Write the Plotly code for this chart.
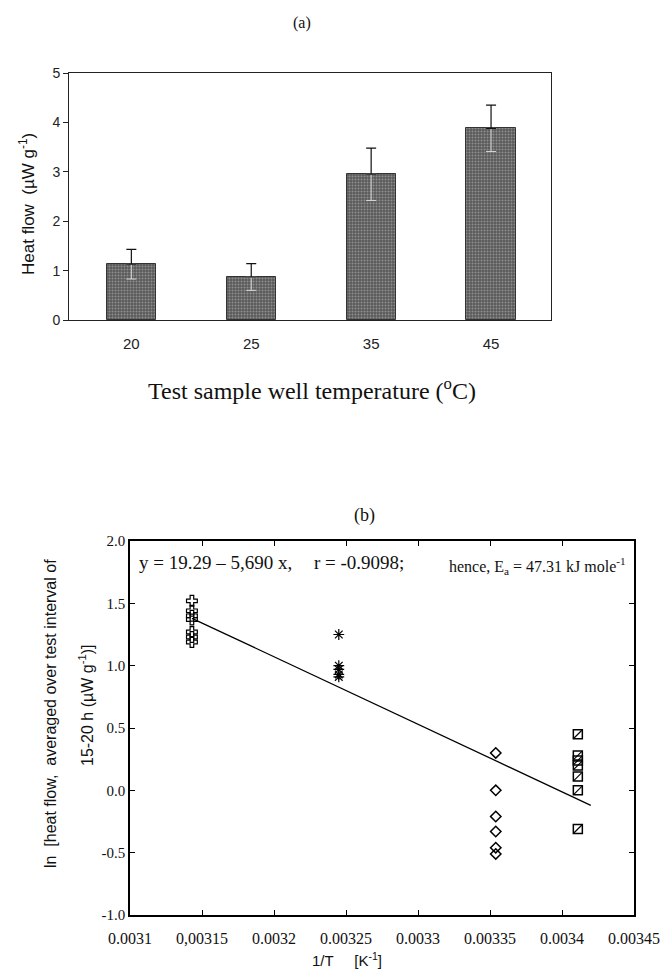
import plotly.graph_objects as go

W, H = 660, 974

# ---------- data: panel (a) ----------
temps = ["20", "25", "35", "45"]
heat_flow = [1.13, 0.87, 2.95, 3.88]
heat_err = [0.30, 0.27, 0.53, 0.47]

# ---------- data: panel (b) ----------
x45 = [0.003143] * 7
y45 = [1.52, 1.44, 1.40, 1.37, 1.27, 1.23, 1.19]
x35 = [0.003245] * 5
y35 = [1.25, 1.00, 0.97, 0.93, 0.91]
x25 = [0.003354] * 6
y25 = [0.30, 0.00, -0.21, -0.33, -0.46, -0.51]
x20 = [0.003411] * 7
y20 = [0.45, 0.28, 0.24, 0.20, 0.11, 0.00, -0.31]
fit_x = [0.003143, 0.003420]
fit_y = [1.38, -0.12]

xticks_b = [0.0031, 0.00315, 0.0032, 0.00325, 0.0033, 0.00335, 0.0034, 0.00345]
xticktext_b = ["0.0031", "0,00315", "0.0032", "0.00325", "0.0033", "0.00335", "0.0034", "0.00345"]
yticks_b = [2.0, 1.5, 1.0, 0.5, 0.0, -0.5, -1.0]
yticktext_b = ["2.0", "1.5", "1.0", "0.5", "0.0", "-0.5", "-1.0"]


def px(x):
    return x / W


def py(y):
    return 1 - y / H


SERIF = "Liberation Serif"
SANS = "Liberation Sans"

fig = go.Figure()

# panel (a) bars
fig.add_trace(go.Bar(
    x=temps, y=heat_flow, width=0.41,
    marker=dict(color="#5a5a5a",
                line=dict(color="#333333", width=1),
                pattern=dict(shape=".", fgcolor="#c4c4c4", bgcolor="#5a5a5a",
                             size=3, solidity=0.35)),
    xaxis="x", yaxis="y", showlegend=False,
))
# lower (faint) half of error bars
fig.add_trace(go.Scatter(
    x=temps, y=heat_flow, mode="markers",
    marker=dict(size=1, color="rgba(0,0,0,0)"),
    error_y=dict(type="data", symmetric=False, array=[0] * 4, arrayminus=heat_err,
                 color="#d8d8d8", thickness=1, width=5),
    xaxis="x", yaxis="y", showlegend=False, hoverinfo="skip",
))
# upper half of error bars
fig.add_trace(go.Scatter(
    x=temps, y=heat_flow, mode="markers",
    marker=dict(size=1, color="rgba(0,0,0,0)"),
    error_y=dict(type="data", symmetric=False, array=heat_err, arrayminus=[0] * 4,
                 color="#111111", thickness=1.2, width=5),
    xaxis="x", yaxis="y", showlegend=False, hoverinfo="skip",
))

# panel (b) fit line
fig.add_trace(go.Scatter(
    x=fit_x, y=fit_y, mode="lines", line=dict(color="black", width=1.3),
    xaxis="x2", yaxis="y2", showlegend=False,
))
# panel (b) points
fig.add_trace(go.Scatter(
    x=x45, y=y45, mode="markers",
    marker=dict(symbol="cross-open", size=9, color="black", line=dict(width=1.2, color="black")),
    xaxis="x2", yaxis="y2", showlegend=False,
))
fig.add_trace(go.Scatter(
    x=x35, y=y35, mode="markers",
    marker=dict(symbol="asterisk-open", size=9, color="black", line=dict(width=1.2, color="black")),
    xaxis="x2", yaxis="y2", showlegend=False,
))
fig.add_trace(go.Scatter(
    x=x25, y=y25, mode="markers",
    marker=dict(symbol="diamond-open", size=8, color="black", line=dict(width=1.5, color="black")),
    xaxis="x2", yaxis="y2", showlegend=False,
))
fig.add_trace(go.Scatter(
    x=x20, y=y20, mode="markers",
    marker=dict(symbol="square-open", size=9, color="black", line=dict(width=1.5, color="black")),
    xaxis="x2", yaxis="y2", showlegend=False,
))
fig.add_trace(go.Scatter(
    x=x20, y=y20, mode="markers",
    marker=dict(symbol="line-ne-open", size=8, color="black", line=dict(width=1.2, color="black")),
    xaxis="x2", yaxis="y2", showlegend=False,
))

fig.update_layout(
    width=W, height=H,
    margin=dict(l=0, r=0, t=0, b=0),
    paper_bgcolor="white", plot_bgcolor="white",
    showlegend=False,
    bargap=0,
    xaxis=dict(
        domain=[px(69), px(551)], anchor="y",
        type="category", range=[-0.52, 3.5],
        showline=True, linecolor="#222", linewidth=1, mirror=True,
        ticks="", showgrid=False, zeroline=False, automargin=False,
        ticklabelstandoff=10,
        tickfont=dict(family=SANS, size=15, color="#222"),
    ),
    yaxis=dict(
        domain=[py(320), py(73)], anchor="x",
        range=[0, 5], tickvals=[0, 1, 2, 3, 4, 5],
        showline=True, linecolor="#222", linewidth=1, mirror=True,
        ticks="outside", ticklen=5, tickcolor="#222", tickwidth=1,
        showgrid=False, zeroline=False, automargin=False,
        tickfont=dict(family=SANS, size=14, color="#222"),
    ),
    xaxis2=dict(
        domain=[px(130), px(634)], anchor="y2",
        range=[0.0031, 0.00345],
        tickvals=xticks_b, ticktext=xticktext_b,
        showline=True, linecolor="black", linewidth=1.5, mirror="ticks",
        ticks="inside", ticklen=5, tickcolor="black", tickwidth=1,
        showgrid=False, zeroline=False, automargin=False,
        ticklabelstandoff=8,
        tickfont=dict(family=SERIF, size=16, color="#111"),
    ),
    yaxis2=dict(
        domain=[py(915), py(541)], anchor="x2",
        range=[-1.0, 2.0],
        tickvals=yticks_b, ticktext=yticktext_b,
        showline=True, linecolor="black", linewidth=1.5, mirror="ticks",
        ticks="inside", ticklen=5, tickcolor="black", tickwidth=1,
        showgrid=False, zeroline=False, automargin=False,
        tickfont=dict(family=SERIF, size=15, color="#111"),
    ),
)

ann = [
    dict(text="(a)", x=px(302), y=py(23), font=dict(family=SERIF, size=16)),
    dict(text="Heat flow  (µW g<sup>-1</sup>)", x=px(27), y=py(204), textangle=-90,
         font=dict(family=SANS, size=17)),
    dict(text="Test sample well temperature (<sup>o</sup>C)", x=px(312), y=py(389),
         font=dict(family=SERIF, size=24)),
    dict(text="(b)", x=px(364), y=py(515), font=dict(family=SERIF, size=18)),
    dict(text="y = 19.29 – 5,690 x,", x=px(137), y=py(562), xanchor="left",
         font=dict(family=SERIF, size=19)),
    dict(text="r = -0.9098;", x=px(312), y=py(562), xanchor="left",
         font=dict(family=SERIF, size=19)),
    dict(text="hence, E<sub>a</sub> = 47.31 kJ mole<sup>-1</sup>", x=px(447), y=py(566),
         xanchor="left", font=dict(family=SERIF, size=16)),
    dict(text="ln  [heat flow,  averaged over test interval of", x=px(50), y=py(714),
         textangle=-90, font=dict(family=SANS, size=16)),
    dict(text="15-20 h (µW g<sup>-1</sup>)]", x=px(86), y=py(706),
         textangle=-90, font=dict(family=SANS, size=16)),
    dict(text="1/T     [K<sup>-1</sup>]", x=px(347), y=py(959),
         font=dict(family=SANS, size=15)),
]
for a in ann:
    a.update(xref="paper", yref="paper", showarrow=False)
    a.setdefault("xanchor", "center")
    a["yanchor"] = "middle"
    a["font"]["color"] = "#111"
fig.update_layout(annotations=ann)

fig.write_html("out.html")
